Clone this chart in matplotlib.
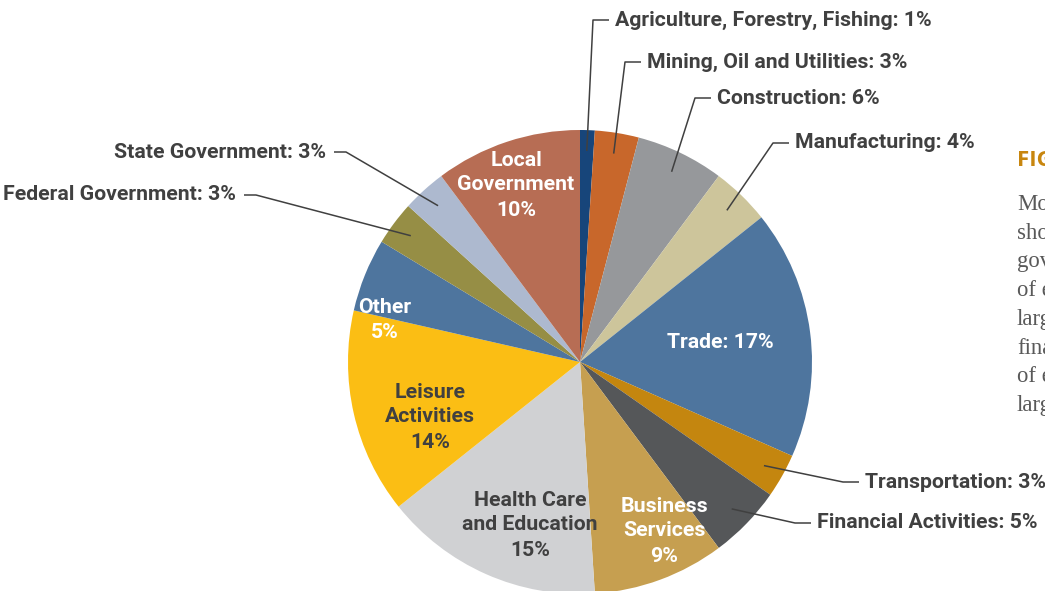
import numpy as np
import matplotlib as mpl
mpl.use('Agg')
import matplotlib.pyplot as plt

# canvas in pixels
W, H = 1045, 591
dpi = 100

label_font = ['Roboto', 'DejaVu Sans']
mpl.rc('font', family=label_font, weight='bold')

# employment share by sector (%)
sectors = ['Agriculture, Forestry, Fishing', 'Mining, Oil and Utilities',
           'Construction', 'Manufacturing', 'Trade', 'Transportation',
           'Financial Activities', 'Business Services',
           'Health Care and Education', 'Leisure Activities', 'Other',
           'Federal Government', 'State Government', 'Local Government']
shares = [1, 3, 6, 4, 17, 3, 5, 9, 15, 14, 5, 3, 3, 10]
colors = ['#17457A', '#C8672B', '#96989B', '#CDC59B', '#4E759E', '#C4860F',
          '#555759', '#C69F50', '#D0D1D3', '#FBBE14', '#4E759E', '#968E45',
          '#ADB9CF', '#B76D54']

# labels inside the pie: text, colour, centre (px, y from top)
inner = {
    'Local Government': ('Local\nGovernment', 'white', (516, 185)),
    'Trade': ('Trade:', 'white', (720, 342)),
    'Other': ('Other', 'white', (385, 320)),
    'Leisure Activities': ('Leisure\nActivities', '#404040', (430, 417)),
    'Health Care and Education': ('Health Care\nand Education', '#404040', (530, 525)),
    'Business Services': ('Business\nServices', 'white', (664, 531)),
}
# callout labels: text anchor x, y (px from top), side
outer = {
    'Agriculture, Forestry, Fishing': (615, 20, 'right'),
    'Mining, Oil and Utilities': (647, 62, 'right'),
    'Construction': (717, 98, 'right'),
    'Manufacturing': (795, 143, 'right'),
    'Transportation': (865, 482, 'right'),
    'Financial Activities': (817, 523, 'right'),
    'State Government': (326, 152, 'left'),
    'Federal Government': (236, 195, 'left'),
}

side_text = ['Mo', 'sho', 'gov', 'of e', 'larg', 'fina', 'of e', 'larg']

fig = plt.figure(figsize=(W/dpi, H/dpi), dpi=dpi)
ax = fig.add_axes([0, 0, 1, 1])

cx, cy, R = 580, H - 362, 232
wedges, _ = ax.pie(shares, colors=colors, startangle=90, counterclock=False,
                   center=(cx, cy), radius=R,
                   wedgeprops=dict(linewidth=0, antialiased=True))
ax.set_xlim(0, W)
ax.set_ylim(0, H)
ax.set_aspect('equal')
ax.axis('off')

fs = 15.3
line_col = '#404040'

for name, share, w in zip(sectors, shares, wedges):
    if name in inner:
        txt, col, (x, y) = inner[name]
        if name == 'Trade':
            s = f'{txt} {share}%'
        else:
            s = f'{txt}\n{share}%'
        ax.text(x, H - y, s, color=col, fontsize=fs, ha='center', va='center',
                linespacing=1.4)
    else:
        tx, ty, side = outer[name]
        ty = H - ty
        th = np.deg2rad((w.theta1 + w.theta2) / 2)
        px = cx + 0.91 * R * np.cos(th)
        py = cy + 0.91 * R * np.sin(th)
        if side == 'right':
            e0, e1 = tx - 22, tx - 6
            ax.plot([px, e0, e1], [py, ty, ty], color=line_col, lw=1.1,
                    solid_capstyle='butt')
            ax.text(tx, ty, f'{name}: {share}%', color='#404040', fontsize=fs,
                    ha='left', va='center')
        else:
            e0, e1 = tx + 20, tx + 8
            ax.plot([px, e0, e1], [py, ty, ty], color=line_col, lw=1.1,
                    solid_capstyle='butt')
            ax.text(tx, ty, f'{name}: {share}%', color='#404040', fontsize=fs,
                    ha='right', va='center')

# start of the neighbouring text column
ax.text(1017, H - 166, 'FIG', color='#C8860F', fontsize=16, ha='left',
        va='baseline', family=['Open Sans', 'DejaVu Sans'], weight='bold')
for i, s in enumerate(side_text):
    ax.text(1017, H - (210 + 28.7 * i), s, color='#595959', fontsize=16.4,
            ha='left', va='baseline',
            family=['Liberation Serif', 'DejaVu Serif'], weight='normal')

plt.savefig('out.png', dpi=dpi)
